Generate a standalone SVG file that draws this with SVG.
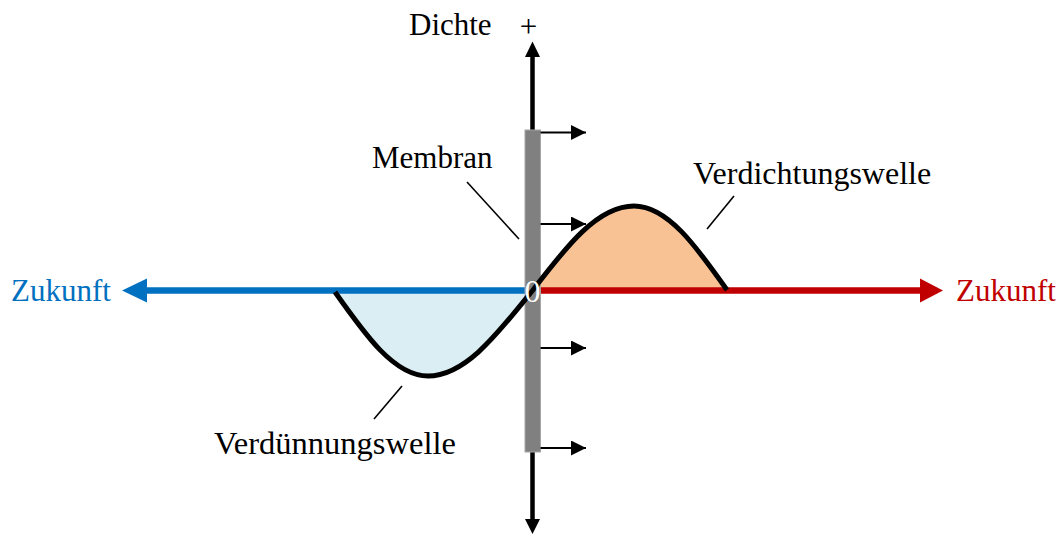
<svg xmlns="http://www.w3.org/2000/svg" width="1062" height="550" viewBox="0 0 1062 550">
  <style>
    .t { font-family: "Liberation Serif", "Times New Roman", serif; font-size: 31px; fill: #000; }
    .lead { stroke: #000; stroke-width: 1.6; fill: none; }
    .small { stroke: #000; stroke-width: 2.2; fill: none; marker-end: url(#hs); }
  </style>
  <defs>
    <marker id="hs" markerUnits="userSpaceOnUse" markerWidth="16" markerHeight="16" refX="15" refY="7.5" orient="auto">
      <path d="M0,0 L15,7.5 L0,15 Z" fill="#000"/>
    </marker>
  </defs>
  <rect width="1062" height="550" fill="#fff"/>

  <g id="fills">
    <path d="M335,290 C365.3,333 394.3,376 428,376 C466,376 498.8,332 533,290 Z" fill="#DAEEF3"/>
    <path d="M533,290 C565.9,247 597.4,206 634,206 C667.7,206 696.7,247 727,290 Z" fill="#F8C294"/>
  </g>

  <g id="connectors">
    <line x1="525" y1="290.5" x2="144" y2="290.5" stroke="#0070C0" stroke-width="6.5"/>
    <path d="M122,290.5 L147,278.5 L147,302.5 Z" fill="#0070C0"/>
    <line x1="540" y1="290.5" x2="922" y2="290.5" stroke="#C00000" stroke-width="6.5"/>
    <path d="M943,290.5 L920,278.5 L920,302.5 Z" fill="#C00000"/>
    <line x1="532.5" y1="55" x2="532.5" y2="521" stroke="#000" stroke-width="4.5"/>
    <path d="M532.5,41.5 L525,57 L540,57 Z" fill="#000"/>
    <path d="M532.5,534 L525,519 L540,519 Z" fill="#000"/>
    <line class="lead" x1="467" y1="182" x2="519" y2="239"/>
    <line class="lead" x1="734" y1="196" x2="707" y2="229"/>
    <line class="lead" x1="402" y1="386" x2="374" y2="419"/>
  </g>

  <g id="membran">
    <rect x="525" y="130" width="15.5" height="322" fill="#808080" stroke="#A6A6A6" stroke-width="1"/>
  </g>

  <g id="welle">
    <path d="M335,292 C365.3,335 394.3,376 428,376 C466,376 498.8,332 533,290 C565.9,247 597.4,206 634,206 C667.7,206 696.7,247 727,290" fill="none" stroke="#000" stroke-width="5"/>
  </g>

  <g id="null">
    <text class="t" x="532.5" y="301.5" text-anchor="middle" style="fill:#fff;font-size:32px">0</text>
  </g>

  <g id="bewegung">
    <line class="small" x1="540.5" y1="132.5" x2="586" y2="132.5"/>
    <line class="small" x1="540.5" y1="224" x2="586" y2="224"/>
    <line class="small" x1="540.5" y1="348" x2="586" y2="348"/>
    <line class="small" x1="540.5" y1="448" x2="586" y2="448"/>
  </g>

  <g id="labels">
    <text class="t" x="409" y="35">Dichte</text>
    <text class="t" x="528.5" y="37" text-anchor="middle">+</text>
    <text class="t" x="372" y="168">Membran</text>
    <text class="t" x="693" y="184" style="font-size:32px">Verdichtungswelle</text>
    <text class="t" x="214" y="454" style="font-size:32.5px">Verdünnungswelle</text>
    <text class="t" x="11" y="301" style="fill:#0070C0">Zukunft</text>
    <text class="t" x="956" y="301" style="fill:#C00000">Zukunft</text>
  </g>
</svg>
